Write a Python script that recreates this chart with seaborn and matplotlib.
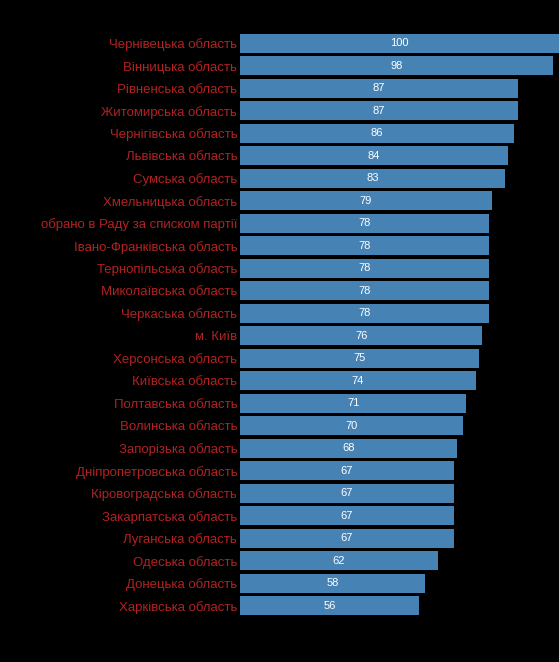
import matplotlib
matplotlib.use("Agg")
import matplotlib.pyplot as plt
import seaborn as sns
import pandas as pd

regions = ["Чернівецька область","Вінницька область","Рівненська область","Житомирська область",
"Чернігівська область","Львівська область","Сумська область","Хмельницька область",
"обрано в Раду за списком партії","Івано-Франківська область","Тернопільська область",
"Миколаївська область","Черкаська область","м. Київ","Херсонська область","Київська область",
"Полтавська область","Волинська область","Запорізька область","Дніпропетровська область",
"Кіровоградська область","Закарпатська область","Луганська область","Одеська область",
"Донецька область","Харківська область"]
values = [100,98,87,87,86,84,83,79,78,78,78,78,78,76,75,74,71,70,68,67,67,67,67,62,58,56]

df = pd.DataFrame({"region": regions, "value": values})
plt.rcParams['font.family'] = ['Liberation Sans', 'DejaVu Sans']

fig = plt.figure(figsize=(5.59, 6.62), dpi=100, facecolor="black")
ax = fig.add_axes([240/559, 45/662, 319/559, 1 - 32/662 - 45/662])
ax.set_facecolor("black")
sns.barplot(data=df, x="value", y="region", color="#4682b4", saturation=1, width=0.85, ax=ax)
ax.set_xlim(0, 100)
for i, v in enumerate(values):
    ax.text(v / 2, i, str(v), color="white", ha="center", va="center", fontsize=8)
ax.set_xlabel(""); ax.set_ylabel("")
ax.set_xticks([])
ax.tick_params(axis="y", length=0, pad=2, labelcolor="#b22222", labelsize=9.5)
for s in ax.spines.values():
    s.set_visible(False)
fig.savefig("out.png", dpi=100, facecolor="black")
